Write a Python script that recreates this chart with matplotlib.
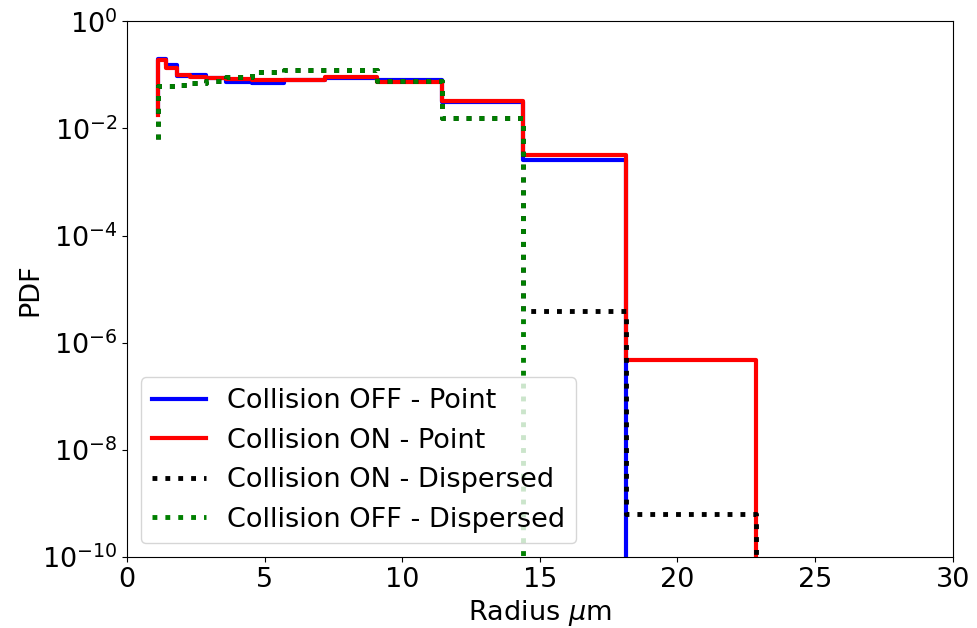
import numpy as np
import matplotlib
matplotlib.use('Agg')
import matplotlib.pyplot as plt

# bin edges (um); first y value is the starting point of each step curve
edges = [1.134, 1.429, 1.8, 2.268, 2.857, 3.6, 4.536, 5.715, 7.2, 9.07, 11.43, 14.4, 18.14, 22.86, 28.8]

off_point = [0.02, 0.2, 0.15, 0.095, 0.1, 0.088, 0.075, 0.072, 0.081, 0.089, 0.082, 0.0306, 0.0026, 0, 0]
on_point = [0.018, 0.19, 0.134, 0.1, 0.092, 0.088, 0.083, 0.081, 0.081, 0.092, 0.073, 0.033, 0.00315, 4.8e-7, 0]
on_disp = [0.0064, 0.061, 0.063, 0.065, 0.072, 0.077, 0.091, 0.111, 0.124, 0.124, 0.078, 0.016, 4.0e-6, 6.3e-10, 0]
off_disp = [0.0064, 0.061, 0.063, 0.065, 0.072, 0.077, 0.091, 0.111, 0.124, 0.124, 0.078, 0.016, 0, 0, 0]

fs = 19.5

fig = plt.figure(figsize=(9.78, 6.28), dpi=100)
ax = fig.add_axes([0.130, 0.113, 0.844, 0.853])

ax.step(edges, off_point, where='pre', color='blue', lw=3, label='Collision OFF - Point')
ax.step(edges, on_point, where='pre', color='red', lw=3, label='Collision ON - Point')
ax.step(edges, on_disp, where='pre', color='black', lw=3.5, ls=':', label='Collision ON - Dispersed')
ax.step(edges, off_disp, where='pre', color='green', lw=3.5, ls=':', label='Collision OFF - Dispersed')

ax.set_yscale('log')
ax.set_ylim(1e-10, 1)
ax.set_xlim(0, 30)
ax.set_xlabel(r'Radius $\mu$m', fontsize=fs)
ax.set_ylabel('PDF', fontsize=fs, labelpad=-1)
ax.tick_params(labelsize=fs)
ax.legend(loc='lower left', fontsize=fs)

fig.savefig('out.png', dpi=100)
